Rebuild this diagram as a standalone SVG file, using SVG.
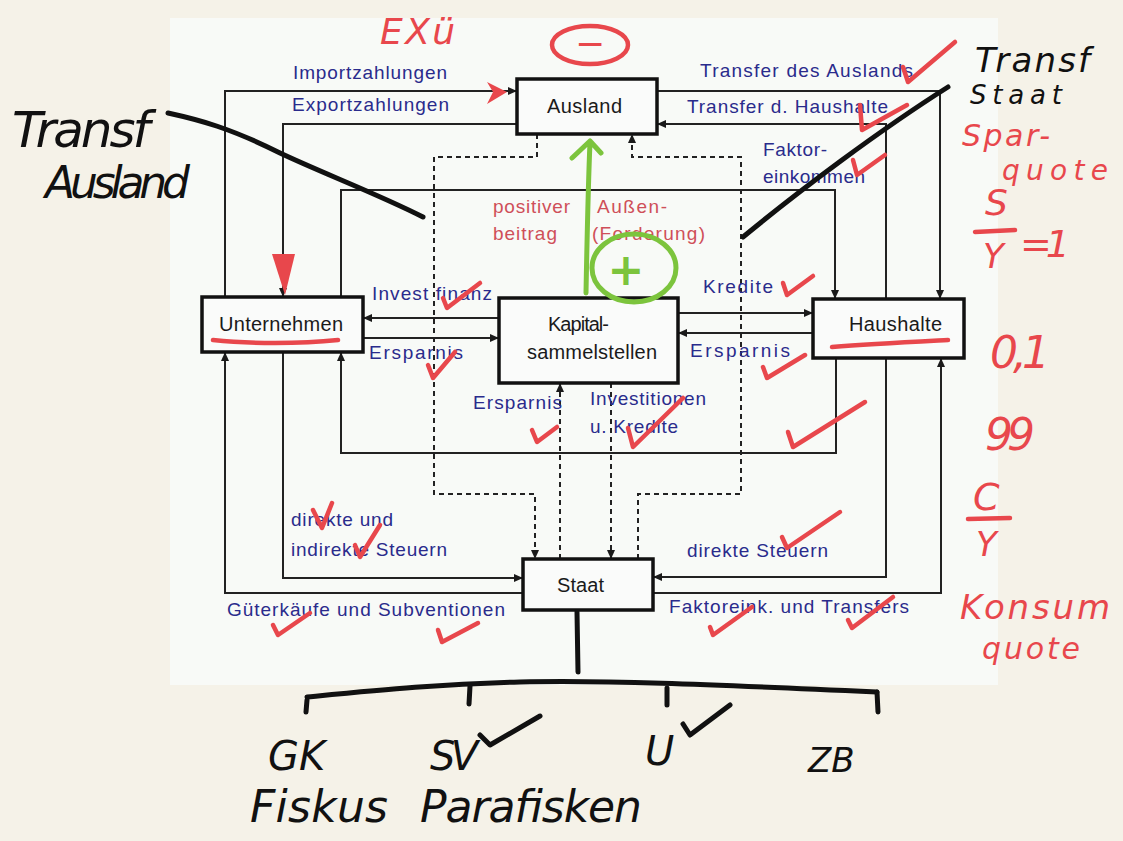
<svg xmlns="http://www.w3.org/2000/svg" width="1123" height="841" viewBox="0 0 1123 841">
<defs>
<marker id="ah" markerUnits="userSpaceOnUse" markerWidth="9" markerHeight="8" refX="9" refY="4" orient="auto"><path d="M0,0 L9,4 L0,8 z" fill="#1a1a1a"/></marker>
<style>
.bg{fill:#f5f2e8}
.panel{fill:#f8faf7}
.box{fill:#fafbfa;stroke:#111;stroke-width:3.5}
.ln{fill:none;stroke:#222;stroke-width:2}
.dl{fill:none;stroke:#222;stroke-width:2;stroke-dasharray:5 4}
.bl{font-family:"Liberation Sans",Arial,sans-serif;font-size:19px;fill:#2a2b8c}
.rd{font-family:"Liberation Sans",Arial,sans-serif;font-size:19px;fill:#cf4f59}
.nl{font-family:"Liberation Sans",Arial,sans-serif;font-size:20px;fill:#1a1a1a}
.hk{font-family:"DejaVu Sans",sans-serif;font-style:italic;fill:#111}
.hr{font-family:"DejaVu Sans",sans-serif;font-style:italic;fill:#e8474c}
.ck{fill:none;stroke:#e8474c;stroke-width:4.5;stroke-linecap:round;stroke-linejoin:round}
.ink{fill:none;stroke:#111;stroke-width:5;stroke-linecap:round;stroke-linejoin:round}
.rink{fill:none;stroke:#e8474c;stroke-width:4.5;stroke-linecap:round}
.gink{fill:none;stroke:#7cc43d;stroke-width:5;stroke-linecap:round;stroke-linejoin:round}
</style>
</defs>
<rect class="bg" x="0" y="0" width="1123" height="841"/>
<rect class="panel" x="170" y="18" width="828" height="667"/>

<g id="connectors">
<path class="ln" d="M225,297 V91 H517" marker-end="url(#ah)"/>
<path class="ln" d="M517,124 H283 V297" marker-end="url(#ah)"/>
<path class="ln" d="M657,91 H940 V299" marker-end="url(#ah)"/>
<path class="ln" d="M886,299 V124 H657" marker-end="url(#ah)"/>
<path class="ln" d="M341,297 V190 H835 V299" marker-end="url(#ah)"/>
<path class="ln" d="M499,318 H363" marker-end="url(#ah)"/>
<path class="ln" d="M363,338 H499" marker-end="url(#ah)"/>
<path class="ln" d="M678,313 H813" marker-end="url(#ah)"/>
<path class="ln" d="M813,333 H678" marker-end="url(#ah)"/>
<path class="ln" d="M836,358 V453 H341 V352" marker-end="url(#ah)"/>
<path class="ln" d="M523,593 H225 V352" marker-end="url(#ah)"/>
<path class="ln" d="M283,352 V578 H523" marker-end="url(#ah)"/>
<path class="ln" d="M886,358 V577 H653" marker-end="url(#ah)"/>
<path class="ln" d="M653,593 H941 V358" marker-end="url(#ah)"/>
<path class="dl" d="M537,134 V157 H434 V494 H535 V559" marker-end="url(#ah)"/>
<path class="dl" d="M638,559 V494 H741 V157 H632 V134" marker-end="url(#ah)"/>
<path class="dl" d="M560,559 V383" marker-end="url(#ah)"/>
<path class="dl" d="M611,383 V559" marker-end="url(#ah)"/>
</g>

<g id="labels">
<text class="bl" x="293" y="79" textLength="154">Importzahlungen</text>
<text class="bl" x="292" y="111" textLength="157">Exportzahlungen</text>
<text class="bl" x="700" y="77" textLength="213">Transfer des Auslands</text>
<text class="bl" x="687" y="113" textLength="201">Transfer d. Haushalte</text>
<text class="bl" x="763" y="156" textLength="64">Faktor-</text>
<text class="bl" x="763" y="183" textLength="102">einkommen</text>
<text class="rd" x="493" y="213" textLength="77">positiver</text>
<text class="rd" x="493" y="240" textLength="64">beitrag</text>
<text class="rd" x="597" y="213" textLength="70">Außen-</text>
<text class="rd" x="592" y="240" textLength="113">(Forderung)</text>
<text class="bl" x="372" y="300" textLength="120">Invest finanz</text>
<text class="bl" x="369" y="359" textLength="94">Ersparnis</text>
<text class="bl" x="703" y="293" textLength="70">Kredite</text>
<text class="bl" x="690" y="357" textLength="100">Ersparnis</text>
<text class="bl" x="473" y="409" textLength="89">Ersparnis</text>
<text class="bl" x="590" y="405" textLength="116">Investitionen</text>
<text class="bl" x="590" y="433" textLength="88">u. Kredite</text>
<text class="bl" x="291" y="526" textLength="102">direkte und</text>
<text class="bl" x="291" y="556" textLength="156">indirekte Steuern</text>
<text class="bl" x="227" y="616" textLength="278">Güterkäufe und Subventionen</text>
<text class="bl" x="687" y="557" textLength="141">direkte Steuern</text>
<text class="bl" x="669" y="613" textLength="240">Faktoreink. und Transfers</text>
</g>

<g id="ausland"><rect class="box" x="517" y="79" width="140" height="55"/><text class="nl" x="547" y="113" textLength="75">Ausland</text></g>
<g id="unternehmen"><rect class="box" x="202" y="297" width="161" height="55"/><text class="nl" x="219" y="331" textLength="124">Unternehmen</text></g>
<g id="kapital"><rect class="box" x="499" y="298" width="179" height="85"/><text class="nl" x="548" y="331" textLength="61">Kapital-</text><text class="nl" x="527" y="359" textLength="130">sammelstellen</text></g>
<g id="haushalte"><rect class="box" x="813" y="299" width="151" height="59"/><text class="nl" x="849" y="331" textLength="93">Haushalte</text></g>
<g id="staat"><rect class="box" x="523" y="559" width="130" height="51"/><text class="nl" x="557" y="592" textLength="47">Staat</text></g>

<g id="annotations">
<path class="ink" d="M168,113 C200,120 230,128 280,153 C320,172 380,195 423,217"/>
<path class="ink" d="M743,237 C800,190 880,130 948,87"/>
<path class="ink" d="M577,612 L578,672"/>
<path class="ink" d="M307,697 C380,690 440,684 520,682 C600,680 700,684 877,692"/>
<path class="ink" d="M307,700 L306,712 M470,686 L469,704 M667,688 L667,705 M877,692 L878,712"/>
<path class="ink" d="M480,735 L490,745 L540,716 M683,724 L690,735 L730,705"/>
<text class="hk" x="12" y="147" font-size="50" textLength="138">Transf</text>
<text class="hk" x="45" y="198" font-size="44" textLength="145">Ausland</text>
<text class="hk" x="975" y="72" font-size="34" textLength="115">Transf</text>
<text class="hk" x="970" y="104" font-size="26" textLength="92">Staat</text>
<text class="hk" x="268" y="770" font-size="40">GK</text>
<text class="hk" x="430" y="770" font-size="40" textLength="48">SV</text>
<text class="hk" x="645" y="765" font-size="40">U</text>
<text class="hk" x="808" y="772" font-size="34">ZB</text>
<text class="hk" x="250" y="822" font-size="44" textLength="138">Fiskus</text>
<text class="hk" x="420" y="822" font-size="44" textLength="222">Parafisken</text>

<text class="hr" x="380" y="44" font-size="36" textLength="75">EXü</text>
<ellipse class="rink" cx="590" cy="45" rx="38" ry="19"/>
<text class="hr" x="590" y="56" font-size="36" text-anchor="middle">−</text>
<text class="hr" x="962" y="146" font-size="30" textLength="88">Spar-</text>
<text class="hr" x="1002" y="180" font-size="28" textLength="106">quote</text>
<text class="hr" x="985" y="215" font-size="36">S</text>
<path class="rink" d="M975,232 L1015,230"/>
<text class="hr" x="983" y="268" font-size="34">Y</text>
<text class="hr" x="1020" y="257" font-size="38" textLength="50">=1</text>
<text class="hr" x="990" y="368" font-size="44" textLength="60">0,1</text>
<text class="hr" x="985" y="450" font-size="44" textLength="50">99</text>
<text class="hr" x="973" y="510" font-size="38">C</text>
<path class="rink" d="M968,519 L1010,518"/>
<text class="hr" x="976" y="556" font-size="34">Y</text>
<text class="hr" x="960" y="619" font-size="34" textLength="150">Konsum</text>
<text class="hr" x="982" y="659" font-size="30" textLength="98">quote</text>

<path d="M487,82 L507,92 L487,104 L493,92 z" fill="#e8474c"/>
<path d="M272,254 L295,254 L285,295 z" fill="#e8474c"/>
<path class="rink" d="M213,340 C250,344 300,344 338,340"/>
<path class="rink" d="M832,347 C870,344 910,342 948,340"/>
<path class="ck" d="M903,67 L908,82 L955,42"/>
<path class="ck" d="M860,105 L862,130 L907,105"/>
<path class="ck" d="M853,160 L857,175 L885,155"/>
<path class="ck" d="M443,298 L447,308 L480,283"/>
<path class="ck" d="M428,365 L433,378 L455,352"/>
<path class="ck" d="M532,430 L537,442 L557,427"/>
<path class="ck" d="M628,428 L633,447 L683,398"/>
<path class="ck" d="M783,283 L787,295 L813,276"/>
<path class="ck" d="M763,367 L767,378 L805,355"/>
<path class="ck" d="M788,432 L793,447 L865,402"/>
<path class="ck" d="M313,510 L322,528 L332,503"/>
<path class="ck" d="M355,545 L360,557 L380,525"/>
<path class="ck" d="M273,625 L278,635 L310,613"/>
<path class="ck" d="M438,630 L442,642 L478,623"/>
<path class="ck" d="M782,537 L787,548 L840,512"/>
<path class="ck" d="M710,627 L713,635 L752,607"/>
<path class="ck" d="M848,620 L852,628 L893,597"/>

<path class="gink" d="M586,293 C587,240 588,190 590,142 M572,158 L590,141 L601,153"/>
<ellipse class="gink" cx="634" cy="268" rx="42" ry="34"/>
<text x="626" y="285" font-family="DejaVu Sans,sans-serif" font-size="44" font-weight="bold" fill="#7cc43d" text-anchor="middle">+</text>
</g>
</svg>
